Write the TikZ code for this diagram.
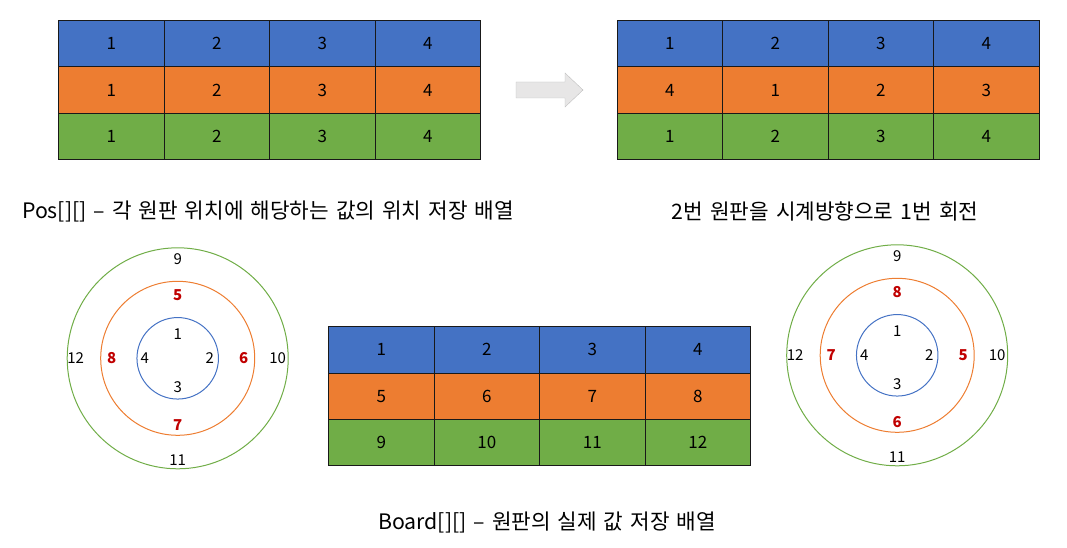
\documentclass[tikz,border=0pt]{standalone}
\usepackage{fontspec}
\setmainfont{Noto Sans CJK KR}
\usetikzlibrary{calc}
\definecolor{cblue}{HTML}{4472C4}
\definecolor{corange}{HTML}{ED7D31}
\definecolor{cgreen}{HTML}{70AD47}
\definecolor{cred}{HTML}{C00000}
\definecolor{arrowfill}{HTML}{E7E6E6}
\definecolor{arrowline}{HTML}{BFBFBF}

\begin{document}
\begin{tikzpicture}[x=1pt,y=-1pt,
  cell/.style={draw=black!90,line width=0.8pt,minimum width=105.5pt,minimum height=46.4pt,inner sep=0pt,font=\fontsize{17}{20}\selectfont},
  ring/.style={circle,draw,line width=1pt,inner sep=0pt},
  num/.style={inner sep=0pt,font=\fontsize{15}{18}\selectfont},
  rednum/.style={inner sep=0pt,text=cred,font=\fontsize{15}{18}\selectfont\bfseries},
  caption/.style={inner sep=0pt,font={\fontsize{21.3}{25}\selectfont\spaceskip 7pt\relax}}]
  \useasboundingbox (0,0) rectangle (1067,548);
  % Pos[][] before the turn
  \foreach \r/\clr/\vals in {1/cblue/{1,2,3,4},2/corange/{1,2,3,4},3/cgreen/{1,2,3,4}}
    \foreach \v [count=\c] in \vals
      \node[cell,fill=\clr] (pa-\r-\c) at (58.5+105.5*\c-52.75,20.5+46.4*\r-23.2) {\v};
  % Pos[][] after the turn
  \foreach \r/\clr/\vals in {1/cblue/{1,2,3,4},2/corange/{4,1,2,3},3/cgreen/{1,2,3,4}}
    \foreach \v [count=\c] in \vals
      \node[cell,fill=\clr] (pb-\r-\c) at (617+105.5*\c-52.75,20.5+46.4*\r-23.2) {\v};
  % Board[][]
  \foreach \r/\clr/\vals in {1/cblue/{1,2,3,4},2/corange/{5,6,7,8},3/cgreen/{9,10,11,12}}
    \foreach \v [count=\c] in \vals
      \node[cell,fill=\clr] (bd-\r-\c) at (328.5+105.5*\c-52.75,326.5+46.4*\r-23.2) {\v};

  \draw[draw=arrowline,fill=arrowfill] (516,82) -- (565,82) -- (565,73) -- (583,90)
    -- (565,107) -- (565,98) -- (516,98) -- cycle;

  % the two discs
  \foreach \p/\cx/\cy/\a/\b/\c/\d in {l/177.7/358.3/5/6/7/8,r/897.2/355.3/8/5/6/7}{
    \begin{scope}[shift={(\cx,\cy)}]
      \node[ring,draw=cgreen,minimum size=221pt] (\p-out) at (0,0) {};
      \node[ring,draw=corange,minimum size=154pt] (\p-mid) at (0,0) {};
      \node[ring,draw=cblue,minimum size=81.5pt] (\p-in) at (0,0) {};
      \node[num] (\p-1) at (0,-24) {1};
      \node[num] (\p-2) at (32,0) {2};
      \node[num] (\p-3) at (0,29) {3};
      \node[num] (\p-4) at (-33,0) {4};
      \node[rednum] (\p-top) at (0,-63) {\a};
      \node[rednum] (\p-right) at (66,0) {\b};
      \node[rednum] (\p-bottom) at (0,67) {\c};
      \node[rednum] (\p-left) at (-66,0) {\d};
      \node[num] (\p-9) at (0,-99) {9};
      \node[num] (\p-10) at (100,0) {10};
      \node[num] (\p-11) at (0,102) {11};
      \node[num] (\p-12) at (-102,0) {12};
    \end{scope}
  }

  \node[caption] (pos-cap) at (268,212) {Pos[][] – 각 원판 위치에 해당하는 값의 위치 저장 배열};
  \node[caption] (turn-cap) at (825,211) {2번 원판을 시계방향으로 1번 회전};
  \node[caption] (board-cap) at (547,522) {Board[][] – 원판의 실제 값 저장 배열};
\end{tikzpicture}
\end{document}
